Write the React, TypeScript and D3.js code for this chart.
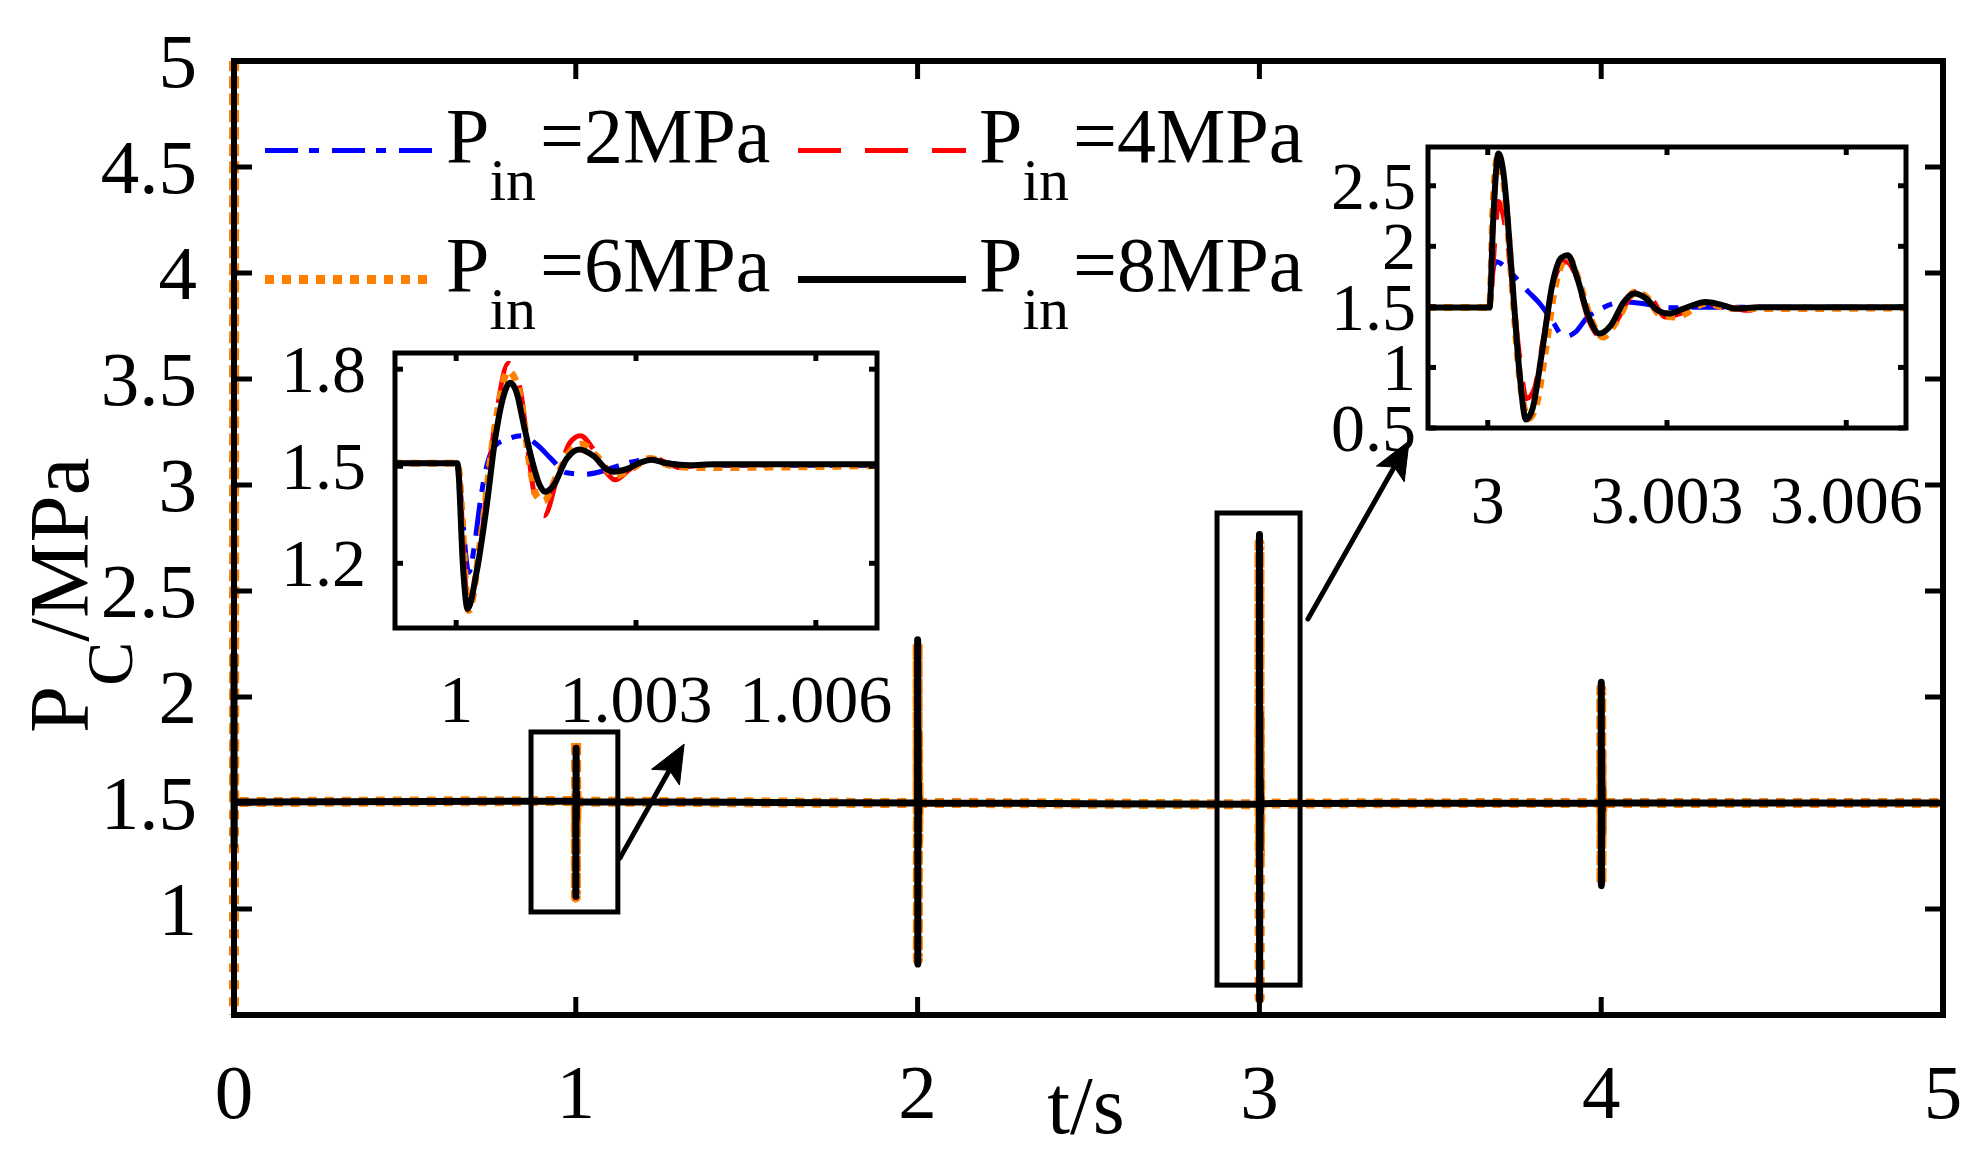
import React from 'react';
import * as d3 from 'd3';

// ---------------- data ----------------
const xTicks = [0, 1, 2, 3, 4, 5];
const yTicks = [1, 1.5, 2, 2.5, 3, 3.5, 4, 4.5, 5];
const yTickMarks = [1, 1.5, 2, 2.5, 3, 3.5, 4, 4.5];
const inset1XTicks = [1, 1.003, 1.006];
const inset1YTicks = [1.2, 1.5, 1.8];
const inset2XTicks = [3, 3.003, 3.006];
const inset2YTicks = [0.5, 1, 1.5, 2, 2.5];
const inset1XLabels = ['1', '1.003', '1.006'];
const inset2XLabels = ['3', '3.003', '3.006'];
const eventTimes = [0, 1, 2, 3, 4];

const seriesLabels = ['=2MPa', '=4MPa', '=6MPa', '=8MPa'];
const seriesColors = ['#0000ff', '#ff0000', '#ff8000', '#000000'];

// transients: [ms after event time, MPa]
const blueE0 = [[0, 1.5]];
const blueE1 = [[0, 1.509], [0.02, 1.509], [0.09, 1.378], [0.21, 1.172], [0.32, 1.275], [0.4, 1.388], [0.51, 1.501], [0.65, 1.563], [0.84, 1.583], [1.09, 1.594], [1.34, 1.568], [1.59, 1.522], [1.84, 1.48], [2.15, 1.475], [2.46, 1.486], [2.73, 1.503], [3.18, 1.52], [3.57, 1.509], [4.01, 1.503], [8, 1.503]];
const blueE2 = [[0, 1.5], [0.03, 1.5], [0.14, 1.75], [1.28, 1.3], [2.3, 1.55], [3.5, 1.5], [8, 1.5]];
const blueE3 = [[0, 1.494], [0.03, 1.494], [0.09, 1.817], [0.14, 1.872], [0.4, 1.775], [0.68, 1.624], [0.87, 1.528], [1.09, 1.376], [1.28, 1.252], [1.47, 1.293], [1.65, 1.404], [1.9, 1.486], [2.28, 1.541], [2.59, 1.528], [3.03, 1.492], [3.53, 1.497], [8, 1.497]];
const blueE4 = [[0, 1.5], [0.03, 1.5], [0.14, 1.65], [1.28, 1.38], [2.3, 1.53], [3.5, 1.5], [8, 1.5]];

const redE0 = [[0, 1.5]];
const redE1 = [[0, 1.509], [0.02, 1.509], [0.2, 1.069], [0.4, 1.254], [0.65, 1.635], [0.87, 1.818], [1.07, 1.737], [1.21, 1.532], [1.32, 1.398], [1.47, 1.347], [1.68, 1.46], [1.9, 1.573], [2.07, 1.594], [2.29, 1.552], [2.51, 1.48], [2.65, 1.458], [2.9, 1.491], [3.23, 1.53], [3.51, 1.511], [3.73, 1.496], [4.07, 1.503], [8, 1.506]];
const redE2 = [[0, 1.5], [0.03, 1.5], [0.18, 2.0], [0.65, 0.95], [1.3, 1.8], [1.95, 1.3], [2.6, 1.62], [3.2, 1.45], [4.5, 1.5], [8, 1.5]];
const redE3 = [[0, 1.494], [0.03, 1.494], [0.12, 2.06], [0.18, 2.37], [0.28, 2.2], [0.4, 1.734], [0.53, 1.1], [0.65, 0.742], [0.78, 0.825], [0.93, 1.238], [1.12, 1.734], [1.31, 1.872], [1.47, 1.762], [1.68, 1.404], [1.93, 1.238], [2.15, 1.376], [2.37, 1.569], [2.59, 1.652], [2.78, 1.541], [2.97, 1.417], [3.22, 1.445], [3.62, 1.528], [3.9, 1.514], [4.34, 1.472], [4.72, 1.492], [8, 1.497]];
const redE4 = [[0, 1.5], [0.03, 1.5], [0.18, 1.9], [0.65, 1.2], [1.3, 1.7], [1.95, 1.38], [2.6, 1.57], [4.5, 1.5], [8, 1.5]];

const orangeE0 = [[0, 0.3], [0.2, 5.3], [0.8, 1.505]];
const orangeE1 = [[0, 1.509], [0.02, 1.509], [0.21, 1.054], [0.4, 1.26], [0.65, 1.624], [0.87, 1.794], [1.07, 1.717], [1.23, 1.501], [1.34, 1.409], [1.46, 1.393], [1.68, 1.47], [1.93, 1.552], [2.09, 1.568], [2.34, 1.532], [2.65, 1.47], [2.96, 1.496], [3.23, 1.524], [3.57, 1.503], [4.07, 1.496], [8, 1.506]];
const orangeE2 = [[0, 1.5], [0.03, 1.5], [0.17, 2.25], [0.66, 0.76], [1.3, 1.84], [1.9, 1.32], [2.5, 1.6], [3.1, 1.45], [4.5, 1.5], [8, 1.5]];
const orangeE3 = [[0, 1.494], [0.03, 1.494], [0.09, 2.34], [0.16, 2.726], [0.28, 2.478], [0.4, 1.734], [0.53, 0.935], [0.68, 0.577], [0.81, 0.687], [0.97, 1.156], [1.12, 1.652], [1.34, 1.913], [1.53, 1.707], [1.72, 1.404], [1.93, 1.252], [2.15, 1.376], [2.47, 1.624], [2.65, 1.583], [2.9, 1.431], [3.15, 1.417], [3.65, 1.528], [4.09, 1.486], [4.47, 1.486], [8, 1.497]];
const orangeE4 = [[0, 1.5], [0.03, 1.5], [0.17, 2.04], [0.66, 1.12], [1.3, 1.74], [1.9, 1.36], [2.5, 1.58], [3.1, 1.46], [4.5, 1.5], [8, 1.5]];

const blackE0 = [[0, 2.2], [0.3, 1.29], [0.8, 1.505]];
const blackE1 = [[0, 1.509], [0.02, 1.509], [0.12, 1.172], [0.19, 1.059], [0.34, 1.172], [0.51, 1.378], [0.65, 1.583], [0.79, 1.717], [0.9, 1.758], [1.01, 1.727], [1.12, 1.635], [1.26, 1.522], [1.4, 1.439], [1.48, 1.421], [1.62, 1.439], [1.84, 1.522], [2.05, 1.552], [2.29, 1.532], [2.51, 1.491], [2.62, 1.483], [2.84, 1.491], [3.07, 1.511], [3.26, 1.52], [3.51, 1.509], [3.9, 1.503], [4.3, 1.506], [8, 1.506]];
const blackE2 = [[0, 1.5], [0.03, 1.5], [0.18, 2.27], [0.64, 0.74], [1.3, 1.85], [1.9, 1.3], [2.5, 1.6], [3.1, 1.45], [3.7, 1.53], [4.5, 1.5], [8, 1.5]];
const blackE3 = [[0, 1.494], [0.03, 1.494], [0.09, 2.202], [0.18, 2.767], [0.26, 2.616], [0.4, 1.789], [0.53, 0.963], [0.64, 0.57], [0.75, 0.66], [0.9, 1.1], [1.09, 1.707], [1.22, 1.9], [1.34, 1.927], [1.5, 1.734], [1.68, 1.431], [1.87, 1.28], [2.06, 1.348], [2.28, 1.541], [2.45, 1.61], [2.65, 1.569], [2.84, 1.472], [3.03, 1.445], [3.28, 1.486], [3.65, 1.541], [3.9, 1.519], [4.15, 1.486], [4.53, 1.497], [8, 1.497]];
const blackE4 = [[0, 1.5], [0.03, 1.5], [0.18, 2.07], [0.64, 1.11], [1.3, 1.75], [1.9, 1.35], [2.5, 1.58], [3.1, 1.46], [3.7, 1.52], [4.5, 1.5], [8, 1.5]];

// zoom boxes [t0, t1, v0, v1] and arrows [t0, v0, t1, v1] in main-axis data units
const zoomBox1 = [0.869, 1.123, 0.986, 1.835];
const zoomBox2 = [2.876, 3.119, 0.641, 2.868];
const arrow1 = [1.129, 1.24, 1.317, 1.778];
const arrow2 = [3.142, 2.368, 3.438, 3.208];

// ---------------- helpers ----------------
type P = [number, number];
function build(events: number[][][]): P[] {
  const pts: P[] = [];
  events.forEach((ev, i) => {
    const te = eventTimes[i];
    ev.forEach((d) => pts.push([te + d[0] / 1000, d[1]]));
  });
  pts.push([5, pts[pts.length - 1][1]]);
  return pts;
}
function subset(pts: P[], lo: number, hi: number): P[] {
  let a = 0;
  while (a < pts.length - 1 && pts[a + 1][0] < lo) a++;
  let b = pts.length - 1;
  while (b > 0 && pts[b - 1][0] > hi) b--;
  return pts.slice(a, b + 1);
}

const FONT = "'Liberation Serif', 'Times New Roman', serif";

export default function App() {
  const series = [
    { pts: build([blueE0, blueE1, blueE2, blueE3, blueE4]), color: seriesColors[0], width: 5, inW: 5, dash: '33 11 10 13' },
    { pts: build([redE0, redE1, redE2, redE3, redE4]), color: seriesColors[1], width: 5, inW: 5, dash: '43 24' },
    { pts: build([orangeE0, orangeE1, orangeE2, orangeE3, orangeE4]), color: seriesColors[2], width: 10, inW: 7, dash: '9 8' },
    { pts: build([blackE0, blackE1, blackE2, blackE3, blackE4]), color: seriesColors[3], width: 7, inW: 6, dash: undefined as string | undefined },
  ];

  const L = 234, R = 1943, T = 61, B = 1015;
  const x = d3.scaleLinear().domain([0, 5]).range([L, R]);
  const y = d3.scaleLinear().domain([0.5, 5]).range([B, T]);

  const in1 = { l: 395, r: 877, t: 353, b: 628 };
  const ix1 = d3.scaleLinear().domain([0.99898, 1.00702]).range([in1.l, in1.r]);
  const iy1 = d3.scaleLinear().domain([1.0, 1.85]).range([in1.b, in1.t]);
  const in2 = { l: 1428, r: 1906, t: 147, b: 428 };
  const ix2 = d3.scaleLinear().domain([2.999, 3.007]).range([in2.l, in2.r]);
  const iy2 = d3.scaleLinear().domain([0.5, 2.82]).range([in2.b, in2.t]);

  const mk = (sx: any, sy: any) => d3.line<P>().x((d) => sx(d[0])).y((d) => sy(d[1])).curve(d3.curveMonotoneX);
  const mainLine = mk(x, y);
  const l1 = mk(ix1, iy1);
  const l2 = mk(ix2, iy2);

  const tickW = 5;

  const arrowEl = (a: number[], key: string) => {
    const x0 = x(a[0]), y0 = y(a[1]), x1 = x(a[2]), y1 = y(a[3]);
    const dx = x1 - x0, dy = y1 - y0, len = Math.hypot(dx, dy);
    const ux = dx / len, uy = dy / len;
    const hl = 38, hw = 16;
    const bx = x1 - ux * hl, by = y1 - uy * hl;
    const head = `M${x1},${y1} L${bx - uy * hw},${by + ux * hw} L${x1 - ux * (hl - 8)},${y1 - uy * (hl - 8)} L${bx + uy * hw},${by - ux * hw} Z`;
    return (
      <g key={key}>
        <line x1={x0} y1={y0} x2={x1 - ux * 20} y2={y1 - uy * 20} stroke="#000" strokeWidth={5} strokeLinecap="round" />
        <path d={head} fill="#000" stroke="#000" strokeWidth={1} />
      </g>
    );
  };

  const box = (b: number[], key: string) => (
    <rect key={key} x={x(b[0])} y={y(b[3])} width={x(b[1]) - x(b[0])} height={y(b[2]) - y(b[3])} fill="none" stroke="#000" strokeWidth={5} />
  );

  const legendPos = [
    { x: 265, y: 150.5 },
    { x: 798, y: 150.5 },
    { x: 265, y: 279.5 },
    { x: 798, y: 279.5 },
  ];

  const insetLines = (gen: any, lo: number, hi: number) =>
    series.map((s, i) => (
      <path key={i} d={gen(subset(s.pts, lo, hi)) || ''} fill="none" stroke={s.color} strokeWidth={s.inW}
        strokeDasharray={s.dash} strokeLinejoin="round" strokeLinecap={s.dash ? 'butt' : 'round'} />
    ));

  return (
    <div style={{ position: 'absolute', left: 0, top: 0 }}>
      <svg width={1985} height={1159} viewBox="0 0 1985 1159" style={{ display: 'block', background: '#fff' }} fontFamily={FONT}>
        <defs>
          <clipPath id="mainClip"><rect x={L - 6} y={T} width={R - L + 6} height={B - T} /></clipPath>
          <clipPath id="in1Clip"><rect x={in1.l} y={in1.t} width={in1.r - in1.l} height={in1.b - in1.t} /></clipPath>
          <clipPath id="in2Clip"><rect x={in2.l} y={in2.t} width={in2.r - in2.l} height={in2.b - in2.t} /></clipPath>
        </defs>
        <rect x={0} y={0} width={1985} height={1159} fill="#fff" />

        {/* main series */}
        <g clipPath="url(#mainClip)">
          {series.map((s, i) => (
            <path key={i} d={mainLine(s.pts) || ''} fill="none" stroke={s.color} strokeWidth={s.width}
              strokeDasharray={s.dash} strokeLinejoin="round" strokeLinecap={s.dash ? 'butt' : 'round'} />
          ))}
        </g>

        {/* main frame */}
        <rect x={L} y={T} width={R - L} height={B - T} fill="none" stroke="#000" strokeWidth={6} />
        {xTicks.slice(1, -1).map((t) => (
          <g key={'xt' + t}>
            <line x1={x(t)} x2={x(t)} y1={B} y2={B - 18} stroke="#000" strokeWidth={tickW} />
            <line x1={x(t)} x2={x(t)} y1={T} y2={T + 18} stroke="#000" strokeWidth={tickW} />
          </g>
        ))}
        {yTickMarks.map((v) => (
          <g key={'yt' + v}>
            <line x1={L} x2={L + 18} y1={y(v)} y2={y(v)} stroke="#000" strokeWidth={tickW} />
            <line x1={R} x2={R - 18} y1={y(v)} y2={y(v)} stroke="#000" strokeWidth={tickW} />
          </g>
        ))}
        {xTicks.map((t) => (
          <text key={'xl' + t} x={x(t)} y={1118} fontSize={77} textAnchor="middle">{t}</text>
        ))}
        {yTicks.map((v) => (
          <text key={'yl' + v} x={197} y={y(v) + 26} fontSize={77} textAnchor="end">{v}</text>
        ))}
        <text x={1086} y={1133} fontSize={82} textAnchor="middle">t/s</text>
        <text transform="translate(88,733) rotate(-90)" fontSize={85}>
          P<tspan fontSize={66} dy={44}>C</tspan><tspan dy={-44}>/MPa</tspan>
        </text>

        {/* zoom boxes and arrows */}
        {box(zoomBox1, 'b1')}
        {box(zoomBox2, 'b2')}
        {arrowEl(arrow1, 'a1')}
        {arrowEl(arrow2, 'a2')}

        {/* legend */}
        {series.map((s, i) => (
          <g key={'lg' + i}>
            <line x1={legendPos[i].x} x2={legendPos[i].x + 168} y1={legendPos[i].y} y2={legendPos[i].y}
              stroke={s.color} strokeWidth={i === 2 ? 9 : i === 3 ? 7 : 5} strokeDasharray={s.dash} />
            <text x={legendPos[i].x + 181} y={legendPos[i].y + 11.5} fontSize={78}>
              P<tspan fontSize={60} dy={38}>in</tspan><tspan dy={-38} dx={4}>{seriesLabels[i]}</tspan>
            </text>
          </g>
        ))}

        {/* inset 1 */}
        <rect x={in1.l} y={in1.t} width={in1.r - in1.l} height={in1.b - in1.t} fill="#fff" />
        <g clipPath="url(#in1Clip)">{insetLines(l1, 0.99898, 1.00702)}</g>
        <rect x={in1.l} y={in1.t} width={in1.r - in1.l} height={in1.b - in1.t} fill="none" stroke="#000" strokeWidth={5} />
        {inset1XTicks.map((t, i) => (
          <g key={'i1x' + i}>
            <line x1={ix1(t)} x2={ix1(t)} y1={in1.b} y2={in1.b - 8} stroke="#000" strokeWidth={tickW} />
            <line x1={ix1(t)} x2={ix1(t)} y1={in1.t} y2={in1.t + 8} stroke="#000" strokeWidth={tickW} />
            <text x={ix1(t)} y={722} fontSize={68} textAnchor="middle">{inset1XLabels[i]}</text>
          </g>
        ))}
        {inset1YTicks.map((v) => (
          <g key={'i1y' + v}>
            <line x1={in1.l} x2={in1.l + 8} y1={iy1(v)} y2={iy1(v)} stroke="#000" strokeWidth={tickW} />
            <line x1={in1.r} x2={in1.r - 8} y1={iy1(v)} y2={iy1(v)} stroke="#000" strokeWidth={tickW} />
            <text x={366} y={iy1(v) + 23} fontSize={68} textAnchor="end">{v}</text>
          </g>
        ))}

        {/* inset 2 */}
        <rect x={in2.l} y={in2.t} width={in2.r - in2.l} height={in2.b - in2.t} fill="#fff" />
        <g clipPath="url(#in2Clip)">{insetLines(l2, 2.999, 3.007)}</g>
        <rect x={in2.l} y={in2.t} width={in2.r - in2.l} height={in2.b - in2.t} fill="none" stroke="#000" strokeWidth={5} />
        {inset2XTicks.map((t, i) => (
          <g key={'i2x' + i}>
            <line x1={ix2(t)} x2={ix2(t)} y1={in2.b} y2={in2.b - 8} stroke="#000" strokeWidth={tickW} />
            <line x1={ix2(t)} x2={ix2(t)} y1={in2.t} y2={in2.t + 8} stroke="#000" strokeWidth={tickW} />
            <text x={ix2(t)} y={523} fontSize={68} textAnchor="middle">{inset2XLabels[i]}</text>
          </g>
        ))}
        {inset2YTicks.map((v) => (
          <g key={'i2y' + v}>
            <line x1={in2.l} x2={in2.l + 8} y1={iy2(v)} y2={iy2(v)} stroke="#000" strokeWidth={tickW} />
            <line x1={in2.r} x2={in2.r - 8} y1={iy2(v)} y2={iy2(v)} stroke="#000" strokeWidth={tickW} />
            <text x={1416} y={iy2(v) + 23} fontSize={68} textAnchor="end">{v}</text>
          </g>
        ))}
      </svg>
    </div>
  );
}
